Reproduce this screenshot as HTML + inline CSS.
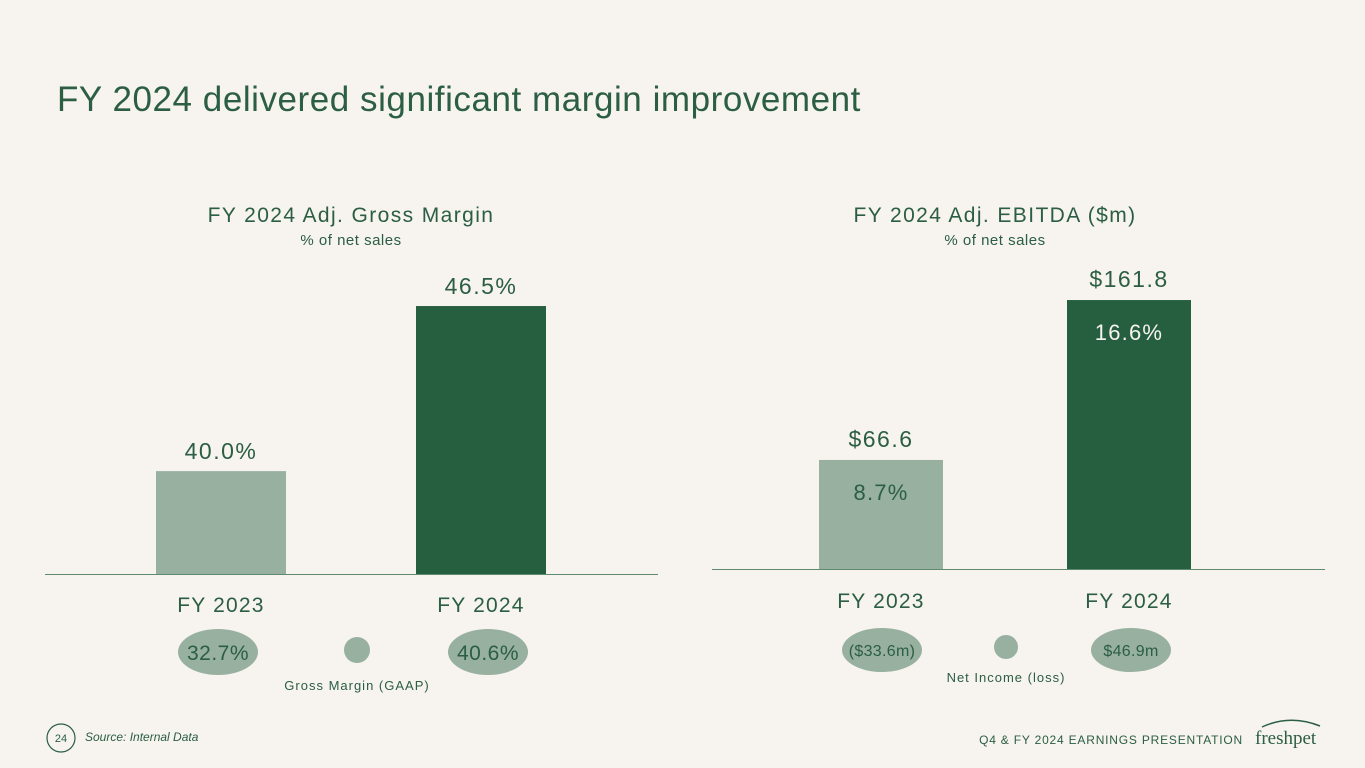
<!DOCTYPE html>
<html><head><meta charset="utf-8">
<style>
html,body{margin:0;padding:0;background:#f7f3ef;}
body{width:1365px;height:768px;overflow:hidden;font-family:"Liberation Sans",sans-serif;}
svg{position:absolute;left:0;top:0;}
</style></head>
<body>
<svg id="s" width="1365" height="768">
<text x="57" y="111" font-size="35" letter-spacing="0.55" fill="#2b5e43">FY 2024 delivered significant margin improvement</text>
<text x="351" y="222" font-size="21" letter-spacing="1.4" fill="#2b5e43" text-anchor="middle">FY 2024 Adj. Gross Margin</text>
<text x="351" y="245" font-size="15" letter-spacing="0.5" fill="#2b5e43" text-anchor="middle">% of net sales</text>
<text x="995" y="222" font-size="21" letter-spacing="1.4" fill="#2b5e43" text-anchor="middle">FY 2024 Adj. EBITDA ($m)</text>
<text x="995" y="245" font-size="15" letter-spacing="0.5" fill="#2b5e43" text-anchor="middle">% of net sales</text>
<line x1="45" y1="574.5" x2="658" y2="574.5" stroke="#5f8a70" stroke-width="1"/>
<line x1="712" y1="569.5" x2="1325" y2="569.5" stroke="#5f8a70" stroke-width="1"/>
<g id="lg"></g>
<g id="rg"></g>
<circle cx="357" cy="650" r="13" fill="#97b09f"/>
<text x="357" y="690" font-size="13" letter-spacing="1" fill="#2b5e43" text-anchor="middle">Gross Margin (GAAP)</text>
<circle cx="1006" cy="647" r="12" fill="#97b09f"/>
<text x="1006" y="682" font-size="13" letter-spacing="1" fill="#2b5e43" text-anchor="middle">Net Income (loss)</text>
<circle cx="61" cy="738" r="14" fill="none" stroke="#2b5e43" stroke-width="1.2"/>
<text x="61" y="742" font-size="11" fill="#2b5e43" text-anchor="middle">24</text>
<text x="85" y="741" font-size="12" font-style="italic" fill="#2b5e43">Source: Internal Data</text>
<text x="1243" y="744" font-size="12" letter-spacing="0.8" fill="#2b5e43" text-anchor="end">Q4 &amp; FY 2024 EARNINGS PRESENTATION</text>
<text x="1255" y="744" font-size="19" font-family="Liberation Serif, serif" fill="#2b5e43">freshpet</text>
<path d="M1262 727 Q1290 714 1320 726" stroke="#2b5e43" stroke-width="1.5" fill="none"/>
</svg>
<script>
const leftCats=["FY 2023","FY 2024"];
const leftVals=[40.0,46.5];
const leftLabels=["40.0%","46.5%"];
const leftGaap=["32.7%","40.6%"];
const rightCats=["FY 2023","FY 2024"];
const rightVals=[66.6,161.8];
const rightLabels=["$66.6","$161.8"];
const rightPct=["8.7%","16.6%"];
const rightNet=["($33.6m)","$46.9m"];
const NS="http://www.w3.org/2000/svg";
function mk(parent,tag,attrs,txt){const e=document.createElementNS(NS,tag);for(const k in attrs)e.setAttribute(k,attrs[k]);if(txt!==undefined)e.textContent=txt;parent.appendChild(e);return e;}
const colors=["#97b09f","#265f40"];
const lx=i=>[156,416][i], lw=130, lBase=574;
const ly=v=>lBase-(v-35.95)*25.4;
const lg=document.getElementById('lg');
leftVals.forEach((v,i)=>{
 const r=mk(lg,'rect',{x:lx(i),y:ly(v),width:lw,height:lBase-ly(v),fill:colors[i]});
 
 
 const t=mk(lg,'text',{x:lx(i)+lw/2,y:ly(v)-12,'font-size':23,'letter-spacing':1.5,fill:'#2b5e43','text-anchor':'middle'},leftLabels[i]);
 
 
 const c=mk(lg,'text',{x:lx(i)+lw/2,y:612,'font-size':21,'letter-spacing':1.2,fill:'#2b5e43','text-anchor':'middle'},leftCats[i]);
 
 
 const cx=[218,488][i];
 const e=mk(lg,'ellipse',{cx:cx,cy:652,rx:40,ry:23,fill:'#97b09f'});
 
 
 const et=mk(lg,'text',{x:cx,y:660,'font-size':21,'letter-spacing':0.5,fill:'#2b5e43','text-anchor':'middle'},leftGaap[i]);
 
 
});
const rx=i=>[819,1067][i], rw=124, rBase=569;
const ry=v=>rBase-(v-1.7)*1.68;
const rg=document.getElementById('rg');
rightVals.forEach((v,i)=>{
 const r=mk(rg,'rect',{x:rx(i),y:ry(v),width:rw,height:rBase-ry(v),fill:colors[i]});
 
 
 const t=mk(rg,'text',{x:rx(i)+rw/2,y:ry(v)-13,'font-size':23,'letter-spacing':1.5,fill:'#2b5e43','text-anchor':'middle'},rightLabels[i]);
 
 
 const p=mk(rg,'text',{x:rx(i)+rw/2,y:ry(v)+40,'font-size':22,'letter-spacing':1.2,fill:i?'#f7f3ef':'#2b5e43','text-anchor':'middle'},rightPct[i]);
 
 
 const c=mk(rg,'text',{x:rx(i)+rw/2,y:608,'font-size':21,'letter-spacing':1.2,fill:'#2b5e43','text-anchor':'middle'},rightCats[i]);
 
 
 const cx=[882,1131][i];
 const e=mk(rg,'ellipse',{cx:cx,cy:650,rx:40,ry:22,fill:'#97b09f'});
 
 
 const et=mk(rg,'text',{x:cx,y:656,'font-size':16,'letter-spacing':0.3,fill:'#2b5e43','text-anchor':'middle'},rightNet[i]);
 
 
});
</script>
</body></html>
